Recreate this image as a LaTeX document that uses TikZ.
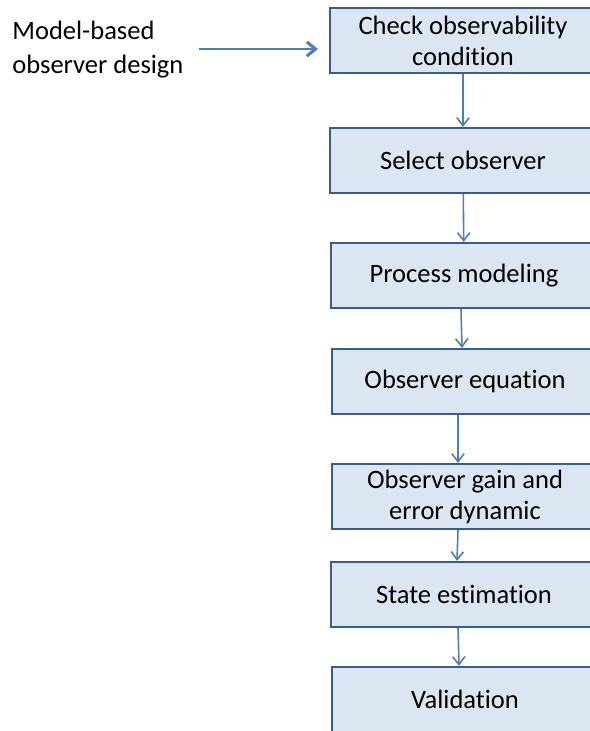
\documentclass[tikz,border=0pt]{standalone}
\usepackage{fontspec}
\setmainfont{Carlito}[Ligatures=NoCommon]
\usetikzlibrary{arrows.meta}
\definecolor{boxfill}{RGB}{220,230,242}
\definecolor{boxline}{RGB}{56,93,138}
\definecolor{arrowblue}{RGB}{74,126,187}

\begin{document}
\begin{tikzpicture}[x=0.02cm, y=-0.02cm,
		stage/.style = {draw = boxline, fill = boxfill, line width = 1.3pt, minimum width = 5.32cm, minimum height = 1.3cm, align = center, inner sep = 0pt, font = \fontsize{15.1}{17.6}\selectfont},
		flow/.style = {draw = arrowblue, line width = 0.9pt, -{Straight Barb[length=4.5pt, width=7pt]}}]
				\useasboundingbox (0,0) rectangle (590,731);
				\clip (0,0) rectangle (590,731);
				
				\node (A) at (463,40.5)[stage]{Check observability\\condition};
				\node (B) at (463,160.5)[stage]{Select observer};
				\node (C) at (464,275.5)[stage]{Process modeling};
				\node (D) at (465,381.5)[stage]{Observer equation};
				\node (E) at (465,496.5)[stage]{Observer gain and\\error dynamic};
				\node (F) at (464,594.5)[stage]{State estimation};
				\node (G) at (465,699.5)[stage]{Validation};
				
				\node (M) at (12,49.5)[anchor = west, align = left, inner sep = 0pt, font = \fontsize{15.1}{19}\selectfont]{Model-based\\observer design};
				\coordinate (S) at (199,49);
				\coordinate (T) at (318,49);
				
				\draw[flow, line width = 1.7pt, -{Straight Barb[length=5pt, width=8pt]}] (S)--(T);
				\draw[flow] (A)--(B);
				\draw[flow] (B)--(C);
				\draw[flow] ([xshift=-0.06cm]C.south)--([xshift=-0.06cm]D.north);
				\draw[flow] ([xshift=-0.14cm]D.south)--([xshift=-0.14cm]E.north);
				\draw[flow] ([xshift=-0.14cm]E.south)--([xshift=-0.14cm]F.north);
				\draw[flow] ([xshift=-0.12cm]F.south)--([xshift=-0.12cm]G.north);
			\end{tikzpicture}
\end{document}
